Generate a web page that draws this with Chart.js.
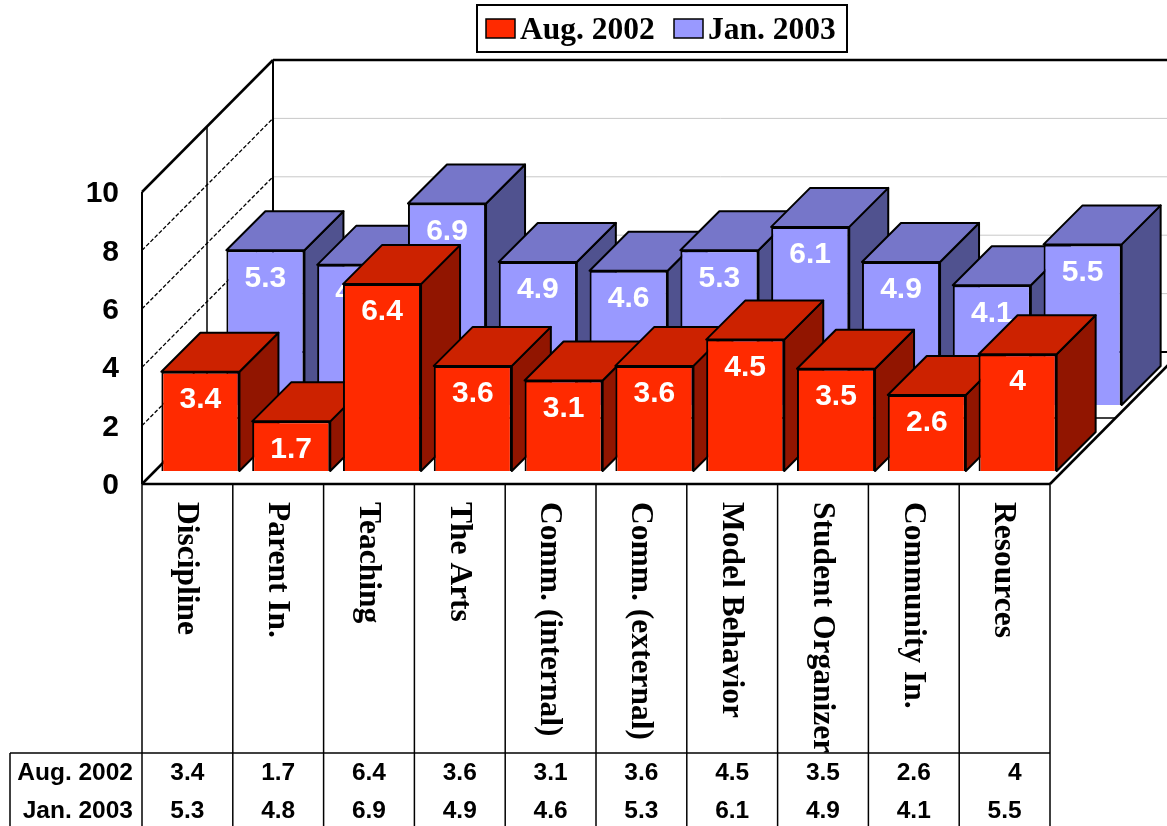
<!DOCTYPE html>
<html><head><meta charset="utf-8">
<style>html,body{margin:0;padding:0;background:#fff}canvas{display:block}</style>
<script src="https://cdn.jsdelivr.net/npm/chart.js@4"></script>
</head><body><canvas id="c" width="1167" height="826"></canvas>
<script>
const categories = ["Discipline","Parent In.","Teaching","The Arts","Comm. (internal)","Comm. (external)","Model Behavior","Student Organizer","Community In.","Resources"];
const aug2002 = [3.4,1.7,6.4,3.6,3.1,3.6,4.5,3.5,2.6,4];
const jan2003 = [5.3,4.8,6.9,4.9,4.6,5.3,6.1,4.9,4.1,5.5];
const yTicks = [0,2,4,6,8,10];

const WALL = {dx:131, dy:-132}, MID = {dx:65, dy:-66}, BAR = {dx:39, dy:-39};
const SHIFT = [{dx:13,dy:-13},{dx:78,dy:-79}];
const FACES = [{top:'#CC2200',side:'#911500'},{top:'#7676C9',side:'#50528F'}];
const SANS = '"Liberation Sans", Arial, sans-serif', SERIF = '"Liberation Serif", "Times New Roman", serif';

function line(ctx,x1,y1,x2,y2,w,col,dash){ctx.save();ctx.beginPath();ctx.lineWidth=w;ctx.strokeStyle=col||'#000';ctx.setLineDash(dash||[]);ctx.moveTo(x1,y1);ctx.lineTo(x2,y2);ctx.stroke();ctx.restore();}
function poly(ctx,pts,fill){ctx.beginPath();pts.forEach((p,i)=>i?ctx.lineTo(p[0],p[1]):ctx.moveTo(p[0],p[1]));ctx.closePath();ctx.fillStyle=fill;ctx.fill();ctx.lineWidth=2;ctx.strokeStyle='#000';ctx.lineJoin='round';ctx.stroke();}

const threeD = {
  id:'threeD',
  beforeDatasetsDraw(chart){
    const ctx=chart.ctx,a=chart.chartArea,y=chart.scales.y;
    const L=a.left,R=a.right,B=a.bottom,T=a.top;
    yTicks.filter(v=>v>0&&v<10).forEach(v=>{
      const p=y.getPixelForValue(v);
      line(ctx,L,p,L+WALL.dx,p+WALL.dy,1.3,'#000',[4,2]);
      line(ctx,L+WALL.dx,p+WALL.dy,R+WALL.dx,p+WALL.dy,1,'#c8c8c8');
    });
    line(ctx,L+MID.dx,T+MID.dy,L+MID.dx,B+MID.dy,1.5);
    line(ctx,L+MID.dx,B+MID.dy,R+MID.dx,B+MID.dy,1.5);
    line(ctx,L,T,L+WALL.dx,T+WALL.dy,2.5);
    line(ctx,L,T,L,B,2);
    line(ctx,L+WALL.dx,T+WALL.dy,R+WALL.dx,T+WALL.dy,2.5);
    line(ctx,L+WALL.dx,T+WALL.dy,L+WALL.dx,B+WALL.dy,2);
    line(ctx,L,B,L+WALL.dx,B+WALL.dy,2.5);
    line(ctx,L+WALL.dx,B+WALL.dy,R+WALL.dx,B+WALL.dy,2);
    line(ctx,R,B,R+WALL.dx,B+WALL.dy,2.5);
    line(ctx,L,B,R,B,2.5);
  },
  beforeDatasetDraw(chart,args){
    const ctx=chart.ctx,i=args.index,s=SHIFT[i],f=FACES[i];
    ctx.save();ctx.translate(s.dx,s.dy);
    args.meta.data.forEach(b=>{
      const l=b.x-b.width/2,r=b.x+b.width/2,t=b.y,bt=b.base;
      poly(ctx,[[r,t],[r+BAR.dx,t+BAR.dy],[r+BAR.dx,bt+BAR.dy],[r,bt]],f.side);
      poly(ctx,[[l,t],[l+BAR.dx,t+BAR.dy],[r+BAR.dx,t+BAR.dy],[r,t]],f.top);
    });
  },
  afterDatasetDraw(chart,args){
    const ctx=chart.ctx,ds=chart.data.datasets[args.index];
    ctx.fillStyle='#fff';ctx.font='bold 30px '+SANS;ctx.textAlign='center';ctx.textBaseline='middle';
    args.meta.data.forEach((b,j)=>ctx.fillText(String(ds.data[j]),b.x,b.y+28));
    ctx.restore();
  },
  afterDraw(chart){
    const ctx=chart.ctx,a=chart.chartArea,x=chart.scales.x,H=chart.height;
    const rowTop=753,rowY=[773,811],colL=10;
    line(ctx,colL,rowTop,a.right,rowTop,1.5);
    line(ctx,colL,rowTop,colL,H,1.5);
    const step=x.getPixelForValue(1)-x.getPixelForValue(0);
    for(let i=0;i<=categories.length;i++){const p=a.left+i*step;line(ctx,p,a.bottom,p,H,1.5);}
    categories.forEach((c,i)=>{
      const p=x.getPixelForValue(i);
      ctx.save();ctx.beginPath();ctx.rect(p-step/2,a.bottom,step,rowTop-a.bottom);ctx.clip();
      ctx.translate(p-1,a.bottom+18);ctx.rotate(Math.PI/2);
      ctx.font='bold 31.5px '+SERIF;ctx.fillStyle='#000';ctx.textAlign='left';ctx.textBaseline='middle';
      ctx.fillText(c,0,0);ctx.restore();
    });
    ctx.font='bold 24.5px '+SANS;ctx.fillStyle='#000';ctx.textBaseline='middle';
    chart.data.datasets.forEach((ds,r)=>{
      ctx.textAlign='right';ctx.fillText(ds.label,133,rowY[r]);
      ds.data.forEach((v,i)=>ctx.fillText(String(v),x.getPixelForValue(i)+17,rowY[r]));
    });
    ctx.fillStyle='#fff';ctx.fillRect(477,5,370,47);
    ctx.lineWidth=2;ctx.strokeStyle='#000';ctx.strokeRect(477,5,370,47);
    const lx=[[486,520],[674,708]];
    chart.data.datasets.forEach((ds,r)=>{
      ctx.fillStyle=ds.backgroundColor;ctx.fillRect(lx[r][0],19,29,19);
      ctx.lineWidth=1.5;ctx.strokeRect(lx[r][0],19,29,19);
      ctx.fillStyle='#000';ctx.font='bold 31.5px '+SERIF;ctx.textAlign='left';ctx.textBaseline='alphabetic';
      ctx.fillText(ds.label,lx[r][1],39);
    });
  }
};

Chart.defaults.devicePixelRatio=1;
new Chart(document.getElementById('c'),{
  type:'bar',
  data:{labels:categories,datasets:[
    {label:'Aug. 2002',data:aug2002,backgroundColor:'#FF2A00',borderColor:'#000',borderWidth:2,order:1,clip:false},
    {label:'Jan. 2003',data:jan2003,backgroundColor:'#9999FF',borderColor:'#000',borderWidth:2,order:2,clip:false}
  ]},
  plugins:[threeD],
  options:{
    responsive:false,animation:false,devicePixelRatio:1,
    layout:{padding:{top:192,left:0,right:117,bottom:0}},
    plugins:{legend:{display:false},tooltip:{enabled:false},title:{display:false}},
    datasets:{bar:{grouped:false,barPercentage:0.86,categoryPercentage:1}},
    scales:{
      x:{grid:{display:false},border:{display:false},ticks:{display:false},afterFit(s){s.height=342;}},
      y:{min:0,max:10,grid:{display:false},border:{display:false},
         afterBuildTicks(s){s.ticks=yTicks.map(v=>({value:v}));},
         ticks:{padding:15,labelOffset:2,color:'#000',font:{family:SANS,weight:'bold',size:30}},
         afterFit(s){s.width=142;}}
    }
  }
});
</script></body></html>
